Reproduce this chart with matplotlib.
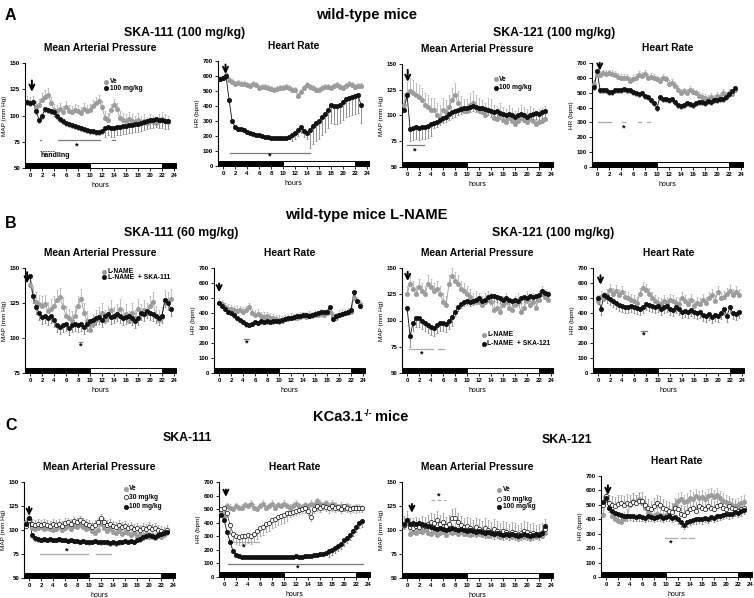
import numpy as np
import matplotlib.pyplot as plt
from matplotlib.patches import Rectangle
from matplotlib.transforms import blended_transform_factory

plt.rcParams['font.family'] = ['Liberation Sans', 'DejaVu Sans']
plt.rcParams['font.weight'] = 'bold'
plt.rcParams['axes.linewidth'] = 0.8

# ---- data: half-hour means (first point at t0) ----
# A: wild-type, SKA-111 100 mg/kg
a1_ve = [113,112,113,108,110,115,118,120,112,105,104,106,103,108,104,103,105,104,102,106,104,105,109,112,
         114,108,98,96,105,110,106,98,96,95,97,95,94,96,94,95,93,95,94,93,95,97,95,94]
a1_drug = [113,112,113,104,96,100,106,105,104,103,100,97,95,93,92,91,90,89,88,87,86,85,85,84,
           84,85,88,89,88,88,89,89,90,90,91,91,92,92,93,94,95,96,96,97,96,96,95,95]
a2_ve = [580,590,605,575,560,550,555,550,545,540,535,545,540,520,525,530,520,515,510,515,520,520,525,520,
         510,505,470,495,520,540,525,520,510,505,520,530,525,520,535,540,530,520,535,545,540,530,535,535]
a2_drug = [580,590,600,440,300,260,250,245,238,230,222,215,210,205,200,195,192,190,187,185,184,185,187,192,
           205,220,240,258,235,218,240,270,285,300,330,350,375,405,400,398,410,430,450,455,462,465,472,410]
# A: wild-type, SKA-121 100 mg/kg
a3_ve = [110,121,124,122,120,118,115,110,108,105,105,100,98,105,103,108,115,120,112,107,104,104,110,112,
         108,105,103,100,105,104,98,97,100,96,94,98,95,92,95,98,96,94,97,95,92,94,95,97]
a3_drug = [105,120,87,88,89,88,89,89,90,92,93,94,96,98,99,101,103,104,105,106,107,107,108,109,
           108,107,107,106,105,104,103,104,102,101,100,101,100,99,100,101,100,99,100,101,102,101,103,104]
a4_ve = [560,620,621,630,625,630,625,620,605,600,600,600,580,595,600,620,615,625,600,605,600,590,580,600,
         590,560,565,545,520,500,510,500,520,505,495,480,470,465,460,470,460,480,470,500,480,500,490,520]
a4_drug = [540,643,519,520,515,505,505,520,515,520,525,520,515,505,500,490,495,480,470,450,430,400,470,460,
           455,450,460,440,420,410,420,430,425,420,430,440,440,430,445,440,450,450,455,460,470,490,510,530]
# B: wild-type + L-NAME
b1_lname = [138,130,126,124,123,124,119,121,123,127,129,122,116,114,112,116,123,128,118,112,106,110,113,115,
            118,113,116,120,115,117,121,114,117,112,118,113,121,117,120,118,123,126,116,113,115,127,126,128]
b1_drug = [144,130,122,118,115,116,114,116,113,109,108,109,110,107,109,110,109,110,108,110,112,113,114,115,
           113,116,117,115,116,117,116,114,115,116,114,112,114,118,117,119,118,117,116,114,116,127,125,121]
b2_lname = [470,460,440,430,425,420,415,420,410,420,440,400,390,395,380,375,380,370,365,360,355,350,360,365,
            370,365,370,375,380,375,385,380,390,385,395,390,400,410,380,370,390,395,400,405,410,500,480,460]
b2_drug = [470,450,430,410,400,385,370,355,340,325,320,330,340,335,345,340,345,340,345,350,345,355,360,365,
           370,375,380,380,385,390,380,390,395,400,410,405,410,440,360,380,390,395,400,405,420,540,480,450]
b3_lname = [125,135,130,125,132,128,125,135,132,128,130,125,118,115,135,142,138,135,130,128,125,122,118,120,
            118,115,118,120,118,110,112,108,115,118,112,110,115,118,108,112,120,115,118,112,120,125,122,120]
b3_drug = [112,85,98,102,102,100,98,96,94,93,96,98,98,97,100,103,108,113,116,118,119,118,119,120,
           121,119,120,122,123,123,122,121,120,121,120,119,120,119,121,122,121,123,122,123,124,128,126,125]
b4_lname = [480,510,500,520,555,530,545,520,540,510,500,490,480,470,530,570,555,530,500,480,470,460,480,470,
            490,480,470,460,500,480,460,490,450,470,460,490,470,500,520,480,540,500,510,530,550,520,540,520]
b4_drug = [500,430,520,510,495,480,465,455,445,440,440,445,440,435,430,440,460,455,450,440,445,430,440,445,
           430,420,440,425,410,415,405,420,410,400,405,390,380,395,375,390,380,400,430,380,440,400,395,405]
# C: KCa3.1-/- mice
c1_ve = [108,112,102,101,102,103,101,102,101,100,101,103,100,102,104,101,104,103,105,103,101,102,99,97,
         100,106,102,99,101,98,97,99,96,98,97,95,97,94,96,94,96,93,95,92,94,93,95,98]
c1_30 = [104,110,106,105,106,105,106,105,104,106,105,106,104,107,108,106,109,108,110,108,106,105,103,105,
         108,112,108,105,106,104,103,105,103,104,102,103,101,102,100,102,101,103,101,102,100,99,98,100]
c1_100 = [106,112,95,92,91,90,91,90,91,90,90,91,90,90,89,90,89,89,88,89,88,87,88,89,
          88,87,88,87,86,87,86,87,88,89,88,89,88,90,91,93,94,95,94,93,95,96,97,98]
c2_ve = [470,450,520,510,500,520,505,510,530,520,540,510,500,520,540,505,520,540,510,530,520,540,520,510,
         525,540,520,510,530,520,540,530,560,540,530,545,520,540,530,510,525,500,520,510,505,515,510,505]
c2_30 = [500,505,470,380,320,300,295,300,305,310,305,320,340,360,370,390,400,420,430,440,450,460,470,475,
         480,490,495,500,505,490,440,500,520,510,525,515,505,520,510,515,500,520,510,500,510,505,510,510]
c2_100 = [460,420,330,260,190,165,155,150,150,148,147,147,146,146,145,146,145,146,145,146,147,148,147,148,
          150,152,150,150,152,155,158,160,165,168,172,180,190,200,215,230,245,270,290,310,340,370,400,410]
c3_ve = [104,108,96,98,97,99,98,100,97,96,98,95,97,98,95,100,97,99,96,98,96,97,95,99,
         96,98,95,97,94,96,95,97,93,95,94,96,93,95,92,94,93,95,92,94,93,95,94,97]
c3_30 = [105,110,103,102,104,103,105,104,106,108,107,110,106,108,104,106,112,113,108,105,103,104,102,100,
         103,101,99,102,100,98,101,99,97,99,98,96,98,97,95,97,99,98,96,97,95,96,97,101]
c3_100 = [106,110,106,107,106,107,106,105,104,103,102,101,102,101,100,101,102,101,100,101,100,99,100,99,
          98,99,98,97,98,97,96,97,96,95,96,95,96,95,94,95,96,95,94,95,96,95,97,104]
c4_ve = [430,550,480,420,400,390,380,400,420,500,530,520,540,510,480,450,430,420,440,430,420,430,440,460,
         500,530,540,520,530,550,540,560,545,555,540,560,570,555,570,545,530,520,510,500,490,500,510,520]
c4_30 = [500,560,510,500,495,505,510,500,515,505,520,510,525,530,500,480,470,490,510,500,480,470,460,450,
         480,470,440,430,450,470,480,460,490,480,470,490,480,470,490,500,480,470,490,480,470,460,470,480]
c4_100 = [520,550,480,460,445,435,430,425,420,425,420,415,420,415,410,420,415,410,415,420,410,415,420,410,
          415,400,380,360,380,390,395,400,405,400,410,405,415,410,420,425,430,440,435,440,450,445,455,465]

# rough SEM per series
a2_drug_err = [10]*24 + [40]*6 + [120]*18
a1_drug_err = [3]*26 + [8]*22
a3_drug_err = [2, 2] + [12]*8 + [5]*38
b3_drug_err = [3, 10] + [8]*14 + [4]*32
c2_30_err = [30]*3 + [60]*20 + [30]*25
c2_100_err = [10]*36 + [40]*12

hour_ticks = list(range(0, 25, 2))
light_dark = [(-0.85, 10, 'black'), (10, 22, 'white'), (22, 24.35, 'black')]

GRAY = '#9c9c9c'
DARK = '#111111'
SIG = '#7a7a7a'
LSIG = '#aaaaaa'
MS = 3.1
STY = {
    've': dict(mfc=GRAY, mec=GRAY, lc=GRAY, ec='#b4b4b4'),
    'open': dict(mfc='white', mec=DARK, lc='#555555', ec='#a0a0a0'),
    'drug': dict(mfc=DARK, mec=DARK, lc=DARK, ec='#808080'),
}

fig = plt.figure(figsize=(7.54, 5.98), dpi=100)


def ftext(x, y, s, **kw):
    return fig.text(x / 754, 1 - y / 598, s, **kw)


def panel(left, top, bottom, title, kind, t0, series, ylim=None, arrow=None, sig=(), stars=(), legend=()):
    ax = fig.add_axes([left / 754, 1 - bottom / 598, 151 / 754, (bottom - top) / 598])
    for vals, err, k, d in series:
        vals = np.asarray(vals, float)
        t = t0 + 0.5 * np.arange(len(vals))
        e = np.broadcast_to(np.asarray(err, float), vals.shape)
        z = np.zeros_like(e)
        s = STY[k]
        ax.errorbar(t, vals, yerr=[e if d < 0 else z, e if d > 0 else z], fmt='none',
                    ecolor=s['ec'], elinewidth=0.6, capsize=0.8, capthick=0.5, zorder=2)
        ax.plot(t, vals, '-', color=s['lc'], lw=0.6, zorder=3)
        ax.plot(t, vals, 'o', ms=MS, mfc=s['mfc'], mec=s['mec'], mew=0.5, zorder=4)
    if kind == 'map':
        ylim = ylim or (50, 150)
        ax.set_yticks(np.arange(ylim[0], 151, 25))
        ax.set_ylabel('MAP (mm Hg)', fontsize=4.6, labelpad=2)
    else:
        ylim = (0, 700)
        ax.set_yticks(np.arange(0, 701, 100))
        ax.set_ylabel('HR (bpm)', fontsize=4.6, labelpad=2)
    ax.set_ylim(*ylim)
    ax.set_xlim(-0.85, 24.35)
    ax.set_xticks(hour_ticks)
    ax.set_xlabel('hours', fontsize=5, labelpad=3)
    ax.tick_params(labelsize=4.4, length=2, width=0.6, pad=1.5)
    for sp in ('top', 'right', 'bottom'):
        ax.spines[sp].set_visible(False)
    tr = blended_transform_factory(ax.transData, ax.transAxes)
    for x0, x1, c in light_dark:
        ax.add_patch(Rectangle((x0, 0), x1 - x0, 0.05, transform=tr, fc=c, ec='black',
                               lw=0.7, clip_on=False, zorder=5))
    if arrow:
        x, y0, y1 = arrow
        ax.annotate('', xy=(x, y1), xytext=(x, y0),
                    arrowprops=dict(arrowstyle='->', lw=1.4, color='black', mutation_scale=9),
                    annotation_clip=False, zorder=6)
    for x0, x1, y, c, ls in sig:
        ax.plot([x0, x1], [y, y], color=c, lw=0.9, ls=ls, zorder=3)
    for x, y in stars:
        ax.text(x, y, '*', fontsize=6.5, ha='center', va='center')
    for x, y, lab, k in legend:
        s = STY[k]
        ax.plot([x], [y], 'o', ms=MS, mfc=s['mfc'], mec=s['mec'], mew=0.5)
        ax.text(x + 0.6, y, lab, fontsize=4.8, va='center', ha='left')
    ftext(left + 75.5, top - 15, title, fontsize=7.4, fontweight='bold', ha='center', va='center')
    return ax


# ---- row A ----
ftext(5, 15, 'A', fontsize=11.5, fontweight='bold', va='center')
ftext(367, 15, 'wild-type mice', fontsize=10.5, fontweight='bold', ha='center', va='center')
ftext(185, 33, 'SKA-111 (100 mg/kg)', fontsize=8.8, fontweight='bold', ha='center', va='center')
ftext(554, 33, 'SKA-121 (100 mg/kg)', fontsize=8.8, fontweight='bold', ha='center', va='center')

ax = panel(25, 63, 168, 'Mean Arterial Pressure', 'map', -0.5,
           [(a1_ve, 6, 've', 1), (a1_drug, a1_drug_err, 'drug', -1)],
           arrow=(0.3, 136, 120),
           sig=[(1.7, 1.9, 77, SIG, '-'), (4.7, 11.7, 77, SIG, '-'), (13.6, 14.2, 77, SIG, '-')],
           stars=[(7.7, 70.5)],
           legend=[(12.7, 132, 'Ve', 've'), (12.7, 126, '100 mg/kg', 'drug')])
ax.plot([1.7, 4.2], [66, 66], color='#333333', lw=0.6, ls=(0, (2, 1)))
ax.text(1.7, 61.5, 'handling', fontsize=5, va='center', ha='left')

panel(218, 61, 166, 'Heart Rate', 'hr', -0.5,
      [(a2_ve, 20, 've', 1), (a2_drug, a2_drug_err, 'drug', -1)],
      arrow=(0.4, 695, 595),
      sig=[(1.1, 14.5, 88, SIG, '-')], stars=[(7.7, 68)])

panel(402, 64, 167, 'Mean Arterial Pressure', 'map', -0.5,
      [(a3_ve, 12, 've', 1), (a3_drug, a3_drug_err, 'drug', -1)],
      arrow=(0.1, 147, 130),
      sig=[(0, 2.8, 71, SIG, '-')], stars=[(1.3, 65.5)],
      legend=[(14.8, 135, 'Ve', 've'), (14.8, 127, '100 mg/kg', 'drug')])

panel(592, 63, 167, 'Heart Rate', 'hr', -0.5,
      [(a4_ve, 25, 've', 1), (a4_drug, 20, 'drug', -1)],
      arrow=(0.45, 720, 630),
      sig=[(0.2, 2.4, 300, LSIG, '-'), (4.1, 4.6, 300, LSIG, '-'),
           (6.9, 7.4, 300, LSIG, '-'), (8.3, 8.8, 300, LSIG, '-')],
      stars=[(4.4, 262)])

# ---- row B ----
ftext(5, 223, 'B', fontsize=11.5, fontweight='bold', va='center')
ftext(366, 215, 'wild-type mice L-NAME', fontsize=10.5, fontweight='bold', ha='center', va='center')
ftext(181, 233, 'SKA-111 (60 mg/kg)', fontsize=8.8, fontweight='bold', ha='center', va='center')
ftext(553, 233, 'SKA-121 (100 mg/kg)', fontsize=8.8, fontweight='bold', ha='center', va='center')

panel(25, 268, 373, 'Mean Arterial Pressure', 'map', 0,
      [(b1_lname, 7, 've', 1), (b1_drug, 5, 'drug', -1)], ylim=(75, 150),
      arrow=(-0.5, 149, 137),
      sig=[(8.2, 8.6, 97.5, SIG, '-')], stars=[(8.4, 94.5)],
      legend=[(12.4, 147.5, 'L-NAME', 've'), (12.4, 143.5, 'L-NAME  + SKA-111', 'drug')])

panel(214, 268, 373, 'Heart Rate', 'hr', 0,
      [(b2_lname, 30, 've', 1), (b2_drug, 15, 'drug', -1)],
      arrow=(0.0, 615, 520),
      sig=[(4.2, 5.0, 230, SIG, '-')], stars=[(4.6, 200)])

panel(402, 268, 373, 'Mean Arterial Pressure', 'map', 0,
      [(b3_lname, 8, 've', 1), (b3_drug, b3_drug_err, 'drug', -1)],
      arrow=(0.1, 149, 135),
      sig=[(0.3, 4.4, 73, LSIG, '-'), (5.2, 6.1, 73, LSIG, '-')], stars=[(2.5, 68)],
      legend=[(12.8, 86.5, 'L-NAME', 've'), (12.8, 78, 'L-NAME  + SKA-121', 'drug')])

panel(593, 268, 373, 'Heart Rate', 'hr', 0,
      [(b4_lname, 40, 've', 1), (b4_drug, 40, 'drug', -1)],
      arrow=(0.4, 670, 570),
      sig=[(7.1, 8.2, 282, SIG, '-')], stars=[(7.6, 250)])

# ---- row C ----
ftext(5, 425, 'C', fontsize=11.5, fontweight='bold', va='center')
t1 = ftext(313, 417, 'KCa3.1', fontsize=10.5, fontweight='bold', ha='left', va='center')
fig.canvas.draw()
bb = t1.get_window_extent()
t2 = fig.text((bb.x1 + 1) / 754, 1 - 413 / 598, '-/-', fontsize=6.5, fontweight='bold', ha='left', va='center')
fig.canvas.draw()
bb2 = t2.get_window_extent()
fig.text((bb2.x1 + 3) / 754, 1 - 417 / 598, 'mice', fontsize=10.5, fontweight='bold', ha='left', va='center')
ftext(187, 438, 'SKA-111', fontsize=8.8, fontweight='bold', ha='center', va='center')
ftext(567, 440, 'SKA-121', fontsize=8.8, fontweight='bold', ha='center', va='center')

panel(24, 482, 578, 'Mean Arterial Pressure', 'map', -0.5,
      [(c1_ve, 5, 've', 1), (c1_30, 5, 'open', 1), (c1_100, 3, 'drug', -1)],
      arrow=(0.0, 127, 112),
      sig=[(1.9, 9.8, 74.5, LSIG, '-'), (11.1, 13.7, 74.5, LSIG, '-')], stars=[(6.2, 78)],
      legend=[(16.1, 143, 'Ve', 've'), (16.1, 134, '30 mg/kg', 'open'), (16.1, 124, '100 mg/kg', 'drug')])

panel(219, 482, 577, 'Heart Rate', 'hr', -0.5,
      [(c2_ve, 25, 've', 1), (c2_30, c2_30_err, 'open', -1), (c2_100, c2_100_err, 'drug', -1)],
      arrow=(0.3, 665, 570),
      sig=[(1.0, 5.8, 260, LSIG, '-'), (0.7, 23.2, 98, SIG, '-')], stars=[(3.2, 224), (12.2, 66)])

panel(402, 482, 578, 'Mean Arterial Pressure', 'map', -0.5,
      [(c3_ve, 8, 've', 1), (c3_30, 10, 'open', 1), (c3_100, 5, 'drug', -1)],
      arrow=(0.8, 130, 115),
      sig=[(4.0, 6.5, 131, LSIG, (0, (3, 2)))], stars=[(5.2, 135)],
      legend=[(15.4, 142, 'Ve', 've'), (15.4, 132, '30 mg/kg', 'open'), (15.4, 124, '100 mg/kg', 'drug')])

panel(601, 476, 577, 'Heart Rate', 'hr', -0.5,
      [(c4_ve, 50, 've', 1), (c4_30, 60, 'open', 1), (c4_100, 30, 'drug', -1)],
      arrow=(0.3, 655, 550),
      sig=[(9.8, 11.8, 273, LSIG, '-'), (12.5, 13.3, 273, LSIG, '-'), (13.8, 14.6, 273, LSIG, '-')],
      stars=[(10.7, 236)])

fig.savefig('out.png', dpi=100)
